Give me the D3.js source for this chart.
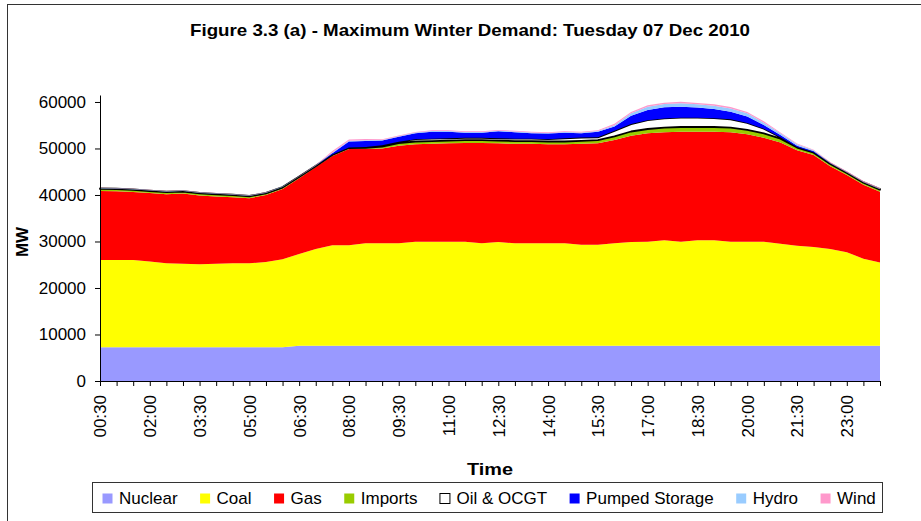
<!DOCTYPE html>
<html>
<head>
<meta charset="utf-8">
<script src="https://cdn.jsdelivr.net/npm/d3@7"></script>
<style>
  body { margin: 0; background: #fff; }
  svg { font-family: "Liberation Sans", Arial, sans-serif; }
</style>
</head>
<body>
<div id="chart"></div>
<script>
var times = ['00:30','01:00','01:30','02:00','02:30','03:00','03:30','04:00','04:30','05:00','05:30','06:00',
  '06:30','07:00','07:30','08:00','08:30','09:00','09:30','10:00','10:30','11:00','11:30','12:00',
  '12:30','13:00','13:30','14:00','14:30','15:00','15:30','16:00','16:30','17:00','17:30','18:00',
  '18:30','19:00','19:30','20:00','20:30','21:00','21:30','22:00','22:30','23:00','23:30','24:00'];

var nuclear = [7250,7250,7250,7250,7250,7250,7250,7250,7250,7250,7250,7250,
  7600,7600,7600,7600,7600,7600,7600,7600,7600,7600,7600,7600,
  7600,7600,7600,7600,7600,7600,7600,7600,7600,7600,7600,7600,
  7600,7600,7600,7600,7600,7600,7600,7600,7600,7600,7600,7600];

var coal = [18750,18750,18750,18450,18050,17950,17850,17950,18050,18050,18350,18950,
  19700,20800,21600,21600,22000,22000,22000,22360,22360,22360,22360,22000,
  22300,22000,22000,22000,22000,21700,21700,22000,22300,22360,22650,22360,
  22650,22650,22360,22360,22360,21900,21500,21200,20800,20100,18700,17900];

var gas = [14860,14800,14650,14700,14850,15100,14800,14500,14200,14000,14400,15100,
  16300,17600,19200,20700,20300,20400,21000,20940,21040,21140,21240,21600,
  21200,21400,21400,21300,21300,21700,21800,22200,22850,23300,23220,23660,
  23370,23370,23510,23090,22370,21800,20500,19800,17800,16600,15900,15200];

var imports = [450,450,450,450,450,450,450,450,450,400,350,300,
  250,200,200,200,250,400,550,600,600,600,600,600,
  600,600,600,600,600,650,700,800,900,930,1000,1000,
  1000,1000,1000,950,930,800,600,500,450,450,450,450];

var oil = [100,100,100,100,100,100,100,100,100,100,100,100,
  100,100,100,100,150,300,300,500,500,500,500,500,
  500,500,500,500,700,700,600,1200,1600,1900,2000,2000,
  2000,1900,1800,1500,1000,300,100,100,100,100,100,100];

var pumped = [0,0,0,0,0,0,0,0,0,0,0,0,
  0,0,300,1300,1300,1000,1050,1260,1500,1400,1100,1100,
  1480,1400,1200,1200,1200,950,1200,900,1800,2190,2380,2380,
  2180,1980,1630,1350,790,500,300,200,100,0,0,0];

var hydro = [100,100,100,100,100,100,100,100,100,100,100,100,
  100,100,150,150,150,150,150,150,150,150,150,150,
  150,150,150,150,150,150,150,300,500,700,700,750,
  700,700,700,700,500,400,300,200,100,100,100,100];

var wind = [50,50,50,50,50,50,50,50,50,50,50,50,
  50,50,300,300,300,150,150,150,150,150,150,150,
  150,150,150,150,150,150,150,300,300,300,300,300,
  300,300,300,300,300,150,150,150,150,150,150,150];

var seriesNames = ['Nuclear','Coal','Gas','Imports','Oil & OCGT','Pumped Storage','Hydro','Wind'];
var seriesColors = ['#9999ff','#ffff00','#ff0000','#99cc00','#ffffff','#0000ff','#99ccff','#ff99cc'];
var yTicks = [0,10000,20000,30000,40000,50000,60000];

var title = 'Figure 3.3 (a) - Maximum Winter Demand: Tuesday 07 Dec 2010';

var chart = {};

chart.create = function(el) {
  var svg = d3.select(el).append('svg')
      .attr('width', 921)
      .attr('height', 521);

  // outer chart frame (runs off the right/bottom edges)
  svg.append('rect')
      .attr('x', 7.5)
      .attr('y', 4.5)
      .attr('width', 1000)
      .attr('height', 1000)
      .attr('fill', 'none')
      .attr('stroke', '#333')
      .attr('stroke-width', 1);

  svg.append('text')
      .attr('x', 470)
      .attr('y', 36)
      .attr('text-anchor', 'middle')
      .attr('font-size', 17)
      .attr('font-weight', 'bold')
      .attr('textLength', 560)
      .attr('lengthAdjust', 'spacingAndGlyphs')
      .text(title);

  this.render(svg);
};

chart.render = function(svg) {
  var columns = [nuclear, coal, gas, imports, oil, pumped, hydro, wind];
  var rows = times.map(function(t, i) {
    var r = {time: t};
    seriesNames.forEach(function(n, k) { r[n] = columns[k][i]; });
    return r;
  });

  var x = d3.scalePoint()
      .domain(times)
      .range([100, 880]);

  var y = d3.scaleLinear()
      .domain([0, 61500])
      .range([381, 95]);

  var stack = d3.stack().keys(seriesNames);
  var layers = stack(rows);

  var area = d3.area()
      .x(function(d) { return x(d.data.time); })
      .y0(function(d) { return y(d[0]); })
      .y1(function(d) { return y(d[1]); });

  svg.append('g')
      .attr('class', 'layers')
    .selectAll('path')
      .data(layers)
      .enter()
      .append('path')
      .attr('d', area)
      .attr('fill', function(d, i) { return seriesColors[i]; })
      .attr('stroke', function(d) { return d.key === 'Oil & OCGT' ? '#000' : 'none'; })
      .attr('stroke-width', 1.8)
      .attr('stroke-linejoin', 'round');

  // y axis
  var yAxis = d3.axisLeft(y)
      .tickValues(yTicks)
      .tickFormat(d3.format('d'))
      .tickSizeInner(5)
      .tickSizeOuter(0)
      .tickPadding(9);

  var gy = svg.append('g')
      .attr('transform', 'translate(100,0)')
      .call(yAxis);
  gy.selectAll('text')
      .attr('font-size', 17)
      .attr('fill', '#000');
  gy.selectAll('line, path').attr('stroke', '#000');

  // x axis, label every 90 minutes
  var xAxis = d3.axisBottom(x)
      .tickSizeInner(5)
      .tickSizeOuter(0)
      .tickPadding(9)
      .tickFormat(function(d, i) { return i % 3 === 0 ? d : ''; });

  var gx = svg.append('g')
      .attr('transform', 'translate(0,381)')
      .call(xAxis);
  gx.selectAll('line, path').attr('stroke', '#000');
  gx.selectAll('text')
      .attr('font-size', 17)
      .attr('fill', '#000')
      .attr('text-anchor', 'end')
      .attr('transform', 'rotate(-90)')
      .attr('x', -14)
      .attr('y', 0)
      .attr('dy', '0.35em');

  svg.append('text')
      .attr('x', 490)
      .attr('y', 475)
      .attr('text-anchor', 'middle')
      .attr('font-size', 17)
      .attr('font-weight', 'bold')
      .attr('textLength', 46)
      .attr('lengthAdjust', 'spacingAndGlyphs')
      .text('Time');

  svg.append('text')
      .attr('transform', 'translate(28,242) rotate(-90)')
      .attr('text-anchor', 'middle')
      .attr('font-size', 17)
      .attr('font-weight', 'bold')
      .text('MW');

  this.legend(svg);
};

chart.legend = function(svg) {
  svg.append('rect')
      .attr('x', 92.5)
      .attr('y', 482.5)
      .attr('width', 790)
      .attr('height', 30)
      .attr('fill', '#fff')
      .attr('stroke', '#333');

  var cursor = 102;
  seriesNames.forEach(function(name, i) {
    var g = svg.append('g');
    g.append('rect')
        .attr('x', cursor + 0.5)
        .attr('y', 493.5)
        .attr('width', 10)
        .attr('height', 10)
        .attr('fill', seriesColors[i])
        .attr('stroke', name === 'Oil & OCGT' ? '#000' : 'none');
    var t = g.append('text')
        .attr('x', cursor + 17)
        .attr('y', 504)
        .attr('font-size', 17)
        .text(name);
    cursor += 17 + t.node().getComputedTextLength() + 22;
  });
};

chart.create(document.getElementById('chart'));
</script>
</body>
</html>
